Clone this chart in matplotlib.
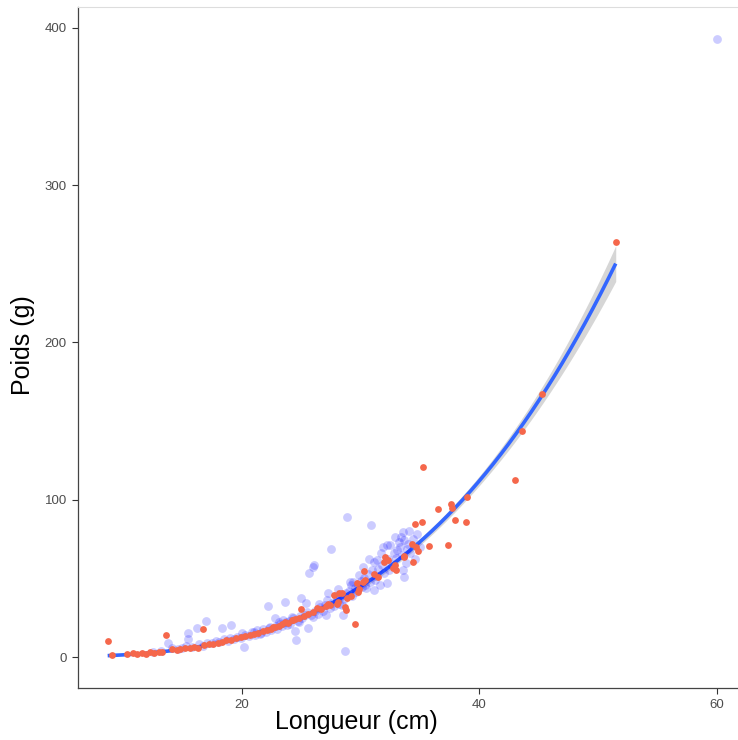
import numpy as np
import matplotlib
matplotlib.use("Agg")
import matplotlib.pyplot as plt

plt.rcParams['font.family'] = ['Liberation Sans', 'DejaVu Sans']

# ---- data ----
red_x = [8.7, 9.1, 10.3, 10.8, 11.2, 11.6, 11.9, 12.3, 12.6, 13.0, 13.3, 13.6, 14.1, 14.5, 14.8,
         15.2, 15.6, 16.0, 16.3, 16.7, 16.8, 17.2, 17.6, 18.0, 18.3, 18.7, 19.1, 19.5, 19.9, 20.3,
         20.7, 21.0, 21.4, 21.8, 22.1, 22.5, 22.6, 22.8, 23.1, 23.4, 23.6, 23.9, 24.2, 24.3, 24.5,
         24.8, 25.0, 25.2, 25.6, 26.0, 26.3, 26.7, 27.1, 27.3, 27.4, 27.8, 28.0, 28.1, 28.2, 28.4,
         28.7, 28.8, 28.9, 29.2, 29.5, 29.7, 29.8, 29.9, 30.2, 30.3, 30.4, 31.1, 31.5, 32.0, 32.1,
         32.3, 32.7, 32.9, 33.0, 33.7, 33.7, 34.3, 34.4, 34.6, 34.7, 34.85, 35.2, 35.3, 35.8, 36.5,
         37.4, 37.6, 37.7, 38.0, 38.9, 39.0, 43.0, 43.6, 45.3, 51.5]
red_y = [10.4, 1.3, 2.0, 2.3, 2.0, 2.5, 2.2, 3.0, 2.8, 3.3, 3.5, 14.0, 5.0, 4.2, 4.8,
         5.5, 5.7, 6.5, 6.0, 17.6, 7.5, 8.0, 8.5, 9.0, 9.8, 10.5, 11.0, 12.2, 12.8, 13.5,
         14.0, 14.8, 15.5, 16.3, 17.0, 18.0, 19.3, 19.2, 20.0, 21.0, 22.4, 21.8, 23.5, 23.5, 24.2,
         25.0, 30.3, 26.0, 27.5, 28.5, 31.0, 30.5, 32.5, 33.5, 33.0, 39.4, 33.5, 35.2, 40.5, 40.4,
         31.8, 29.9, 37.5, 38.8, 21.2, 46.8, 41.5, 43.0, 47.9, 54.7, 49.0, 52.8, 51.0, 60.6, 63.3,
         61.7, 56.4, 58.5, 55.3, 63.8, 64.2, 71.8, 60.6, 84.4, 69.7, 67.6, 85.6, 120.6, 70.8, 93.9,
         71.4, 97.0, 94.7, 86.9, 86.0, 101.7, 112.7, 143.5, 167.0, 263.8]

blue_x = [12.5, 13.2, 13.8, 14.1, 14.6, 15.0, 15.3, 15.5, 15.5, 15.8, 16.2, 16.4, 16.7, 17.0, 17.1,
          17.5, 17.8, 18.1, 18.3, 18.5, 18.8, 19.0, 19.1, 19.3, 19.6, 19.9, 20.0, 20.2, 20.3, 20.6,
          20.9, 21.0, 21.1, 21.3, 21.5, 21.6, 21.8, 22.0, 22.2, 22.3, 22.4, 22.5, 22.8, 22.9, 23.0,
          23.1, 23.2, 23.4, 23.5, 23.6, 23.7, 23.8, 24.0, 24.1, 24.2, 24.3, 24.5, 24.6, 24.7, 24.8,
          24.9, 25.0, 25.1, 25.3, 25.4, 25.5, 25.6, 25.7, 25.8, 26.0, 26.0, 26.1, 26.2, 26.4, 26.5,
          26.6, 26.8, 27.0, 27.1, 27.2, 27.3, 27.4, 27.5, 27.6, 27.8, 27.9, 28.0, 28.1, 28.2, 28.3,
          28.4, 28.5, 28.6, 28.7, 28.8, 28.9, 29.0, 29.1, 29.2, 29.3, 29.4, 29.5, 29.6, 29.8, 29.9,
          30.0, 30.1, 30.2, 30.3, 30.4, 30.5, 30.6, 30.7, 30.8, 30.9, 31.0, 31.1, 31.1, 31.2, 31.3,
          31.4, 31.5, 31.6, 31.7, 31.8, 31.9, 32.0, 32.2, 32.2, 32.3, 32.4, 32.5, 32.6, 32.8, 32.9,
          33.0, 33.1, 33.2, 33.3, 33.4, 33.5, 33.6, 33.6, 33.7, 33.7, 33.8, 33.9, 34.0, 34.1, 34.2,
          34.4, 34.6, 34.8, 35.0, 60.0]
blue_y = [3.5, 4.0, 8.7, 5.5, 4.8, 6.0, 7.2, 15.3, 11.2, 6.5, 18.6, 8.0, 7.2, 22.9, 9.0,
          8.6, 10.2, 9.5, 18.6, 11.5, 10.0, 12.0, 20.3, 11.3, 13.0, 12.0, 15.0, 6.2, 14.2, 13.4,
          15.6, 16.0, 14.2, 17.0, 14.5, 15.5, 17.5, 16.0, 32.4, 18.5, 19.0, 17.0, 25.0, 19.8, 18.0,
          22.0, 21.0, 19.5, 23.5, 35.2, 22.5, 20.5, 23.0, 21.0, 25.5, 24.5, 16.5, 10.8, 23.0, 22.0,
          26.0, 37.3, 24.5, 27.0, 34.5, 28.5, 18.2, 53.6, 26.5, 57.2, 25.5, 58.5, 29.0, 27.5, 33.5,
          31.5, 29.5, 33.0, 26.7, 36.0, 40.4, 31.0, 68.7, 34.5, 32.5, 38.5, 36.5, 43.0, 34.0, 38.0,
          33.0, 26.7, 37.0, 3.8, 40.5, 89.0, 42.0, 47.9, 45.8, 39.0, 48.0, 44.0, 41.5, 46.0, 52.0,
          48.5, 44.5, 57.4, 50.0, 46.0, 43.7, 52.5, 62.0, 48.0, 83.9, 55.0, 42.6, 60.6, 49.0, 51.5,
          61.7, 56.0, 45.8, 66.0, 58.5, 70.1, 53.5, 71.2, 46.8, 62.0, 55.0, 71.2, 59.0, 66.0, 76.0,
          63.0, 68.0, 73.3, 70.1, 76.5, 65.0, 79.7, 55.3, 74.4, 50.6, 60.0, 68.5, 72.0, 80.0, 66.0,
          75.0, 62.0, 78.0, 70.0, 393.0]

x_ticks = [20, 40, 60]
y_ticks = [0, 100, 200, 300, 400]
x_label = "Longueur (cm)"
y_label = "Poids (g)"

# ---- smooth: power-law fit W = a * L^b on red points (Gauss-Newton) ----
rx = np.array(red_x, float)
ry = np.array(red_y, float)
b, loga = np.polyfit(np.log(rx), np.log(ry), 1)
a = np.exp(loga)
for _ in range(100):
    f = a * rx ** b
    J = np.column_stack([rx ** b, a * rx ** b * np.log(rx)])
    d, *_ = np.linalg.lstsq(J, ry - f, rcond=None)
    a += d[0]
    b += d[1]
res = ry - a * rx ** b
s2 = np.sum(res ** 2) / (len(rx) - 2)
J = np.column_stack([rx ** b, a * rx ** b * np.log(rx)])
cov = s2 * np.linalg.inv(J.T @ J)
g = np.linspace(rx.min(), rx.max(), 200)
Jg = np.column_stack([g ** b, a * g ** b * np.log(g)])
fit = a * g ** b
se = np.sqrt(np.einsum('ij,jk,ik->i', Jg, cov, Jg))
lo = fit - 1.98 * se
hi = fit + 1.98 * se

# ---- figure ----
fig = plt.figure(figsize=(7.38, 7.40), dpi=100)
ax = fig.add_axes([78 / 738, 52 / 740, 660 / 738, 681 / 740])

ax.fill_between(g, lo, hi, color='#999999', alpha=0.4, lw=0, zorder=1)
ax.plot(g, fit, color='#3366FF', lw=2.6, zorder=2, solid_capstyle='butt')
ax.scatter(blue_x, blue_y, s=40, color='blue', alpha=0.2, lw=0, zorder=3)
ax.scatter(red_x, red_y, s=24, color='#F5674B', lw=0, zorder=4)

ax.set_xlim(6.2, 61.8)
ax.set_ylim(-19.7, 413.2)
ax.set_xticks(x_ticks)
ax.set_yticks(y_ticks)
ax.tick_params(axis='both', colors='#333333', labelcolor='#4D4D4D', labelsize=9.5,
               length=4, width=0.8, pad=4)

for side in ['left', 'bottom']:
    ax.spines[side].set_color('#444444')
    ax.spines[side].set_linewidth(0.9)
ax.spines['right'].set_visible(False)
ax.spines['top'].set_color('#DDDDDD')
ax.spines['top'].set_linewidth(0.8)

fig.text(356 / 738, 1 - 722 / 740, x_label, ha='center', va='center', fontsize=18, color='black')
fig.text(23 / 738, 1 - 345 / 740, y_label, ha='center', va='center', rotation=90, fontsize=18, color='black')

fig.savefig('out.png', dpi=100)
